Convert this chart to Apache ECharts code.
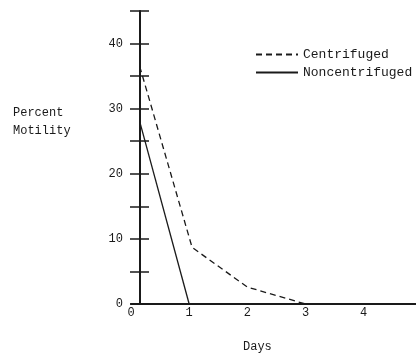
<!DOCTYPE html>
<html>
<head>
<meta charset="utf-8">
<script src="https://cdn.jsdelivr.net/npm/echarts@6/dist/echarts.min.js"></script>
<style>
html,body{margin:0;padding:0;background:#fff;}
#main{width:416px;height:355px;}
</style>
</head>
<body>
<div id="main"></div>
<script>
var seriesNames = ['Centrifuged', 'Noncentrifuged'];
var centrifugedDays = [0.15, 1.05, 2.0, 3.0];
var centrifugedValues = [36.5, 8.7, 2.6, 0];
var noncentrifugedDays = [0.15, 1.0];
var noncentrifugedValues = [28.0, 0];
var xTickLabels = ['0', '1', '2', '3', '4'];
var yTickLabels = ['0', '10', '20', '30', '40'];

function pairs(xs, ys) { return xs.map(function (x, i) { return [x, ys[i]]; }); }

var FONT = '"Liberation Mono", "DejaVu Sans Mono", monospace';
var INK = '#1a1a1a';

var chart = echarts.init(document.getElementById('main'));
var yBase = {
  type: 'value', min: 0, max: 45, interval: 5, offset: -9,
  splitLine: { show: false }
};
chart.setOption({
  animation: false,
  backgroundColor: '#fff',
  title: {
    text: 'Percent\nMotility',
    left: 8, top: 99,
    textStyle: { fontFamily: FONT, fontSize: 12, fontWeight: 'normal', color: INK, lineHeight: 18 }
  },
  graphic: [{
    type: 'text', left: 243, top: 341,
    style: { text: 'Days', font: '12px ' + FONT, fill: INK }
  }],
  legend: {
    orient: 'vertical', left: 250, top: 43, itemWidth: 42, itemHeight: 14, itemGap: 5,
    data: seriesNames,
    itemStyle: { opacity: 0 },
    textStyle: { fontFamily: FONT, fontSize: 13, color: INK }
  },
  grid: { left: 131, right: 0, top: 11, bottom: 51, containLabel: false },
  xAxis: {
    type: 'value', min: 0, max: 4.9, interval: 1,
    axisLine: { lineStyle: { color: INK, width: 2 } },
    axisTick: { show: false },
    splitLine: { show: false },
    axisLabel: {
      showMaxLabel: false, margin: 3, fontFamily: FONT, fontSize: 12, color: INK,
      formatter: function (v) { var i = Math.round(v); return (Math.abs(v - i) < 1e-6 && xTickLabels[i] !== undefined) ? xTickLabels[i] : ''; }
    }
  },
  yAxis: [
    Object.assign({}, yBase, {
      axisLine: { show: true, lineStyle: { color: INK, width: 2 } },
      axisTick: { show: true, length: 10, lineStyle: { color: INK, width: 1.5 } },
      axisLabel: {
        margin: 17, fontFamily: FONT, fontSize: 12, color: INK,
        formatter: function (v) { var i = v / 10; return (Number.isInteger(i) && yTickLabels[i] !== undefined) ? yTickLabels[i] : ''; }
      }
    }),
    Object.assign({}, yBase, {
      position: 'left',
      axisLine: { show: false },
      axisTick: { show: true, inside: true, length: 9, lineStyle: { color: INK, width: 1.5 } },
      axisLabel: { show: false }
    })
  ],
  series: [
    {
      name: seriesNames[0], type: 'line', symbol: 'none',
      data: pairs(centrifugedDays, centrifugedValues),
      lineStyle: { color: INK, width: 1.3, type: [6, 4] },
      itemStyle: { color: INK }
    },
    {
      name: seriesNames[1], type: 'line', symbol: 'none',
      data: pairs(noncentrifugedDays, noncentrifugedValues),
      lineStyle: { color: INK, width: 1.3, type: 'solid' },
      itemStyle: { color: INK }
    }
  ]
});
</script>
</body>
</html>
